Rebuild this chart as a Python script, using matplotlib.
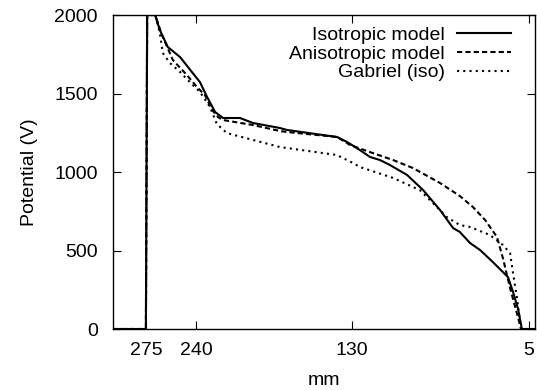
import matplotlib
matplotlib.use("Agg")
import matplotlib.pyplot as plt

# x position along the path (0..100 across the plotted range), potential in V
iso_x = [0, 7.8, 8.1, 10.0, 11.1, 13.0, 15.9, 18.7, 20.6, 22.3, 24.2, 26.1, 30.1, 33.2,
         39.6, 41.2, 53.1, 55.5, 58.5, 60.9, 63.3, 65.6, 69.7, 73.5, 77.5, 80.6, 82.2,
         84.6, 87.0, 90.0, 93.6, 94.8, 96.0, 96.9, 100]
iso_v = [0, 0, 2000, 2000, 1904, 1796, 1732, 1637, 1573, 1478, 1382, 1344, 1344, 1312,
         1280, 1268, 1223, 1191, 1140, 1096, 1076, 1045, 981, 885, 758, 643, 618,
         548, 503, 427, 331, 236, 127, 0, 0]

aniso_x = [0, 7.8, 8.1, 10.0, 11.6, 14.2, 17.5, 19.9, 21.8, 23.5, 24.9, 26.1, 33.2, 39.6,
           41.2, 53.1, 56.2, 60.9, 66.4, 71.1, 77.5, 82.2, 85.3, 88.2, 91.0, 92.4, 94.1,
           95.7, 96.7, 100]
aniso_v = [0, 0, 2000, 2000, 1873, 1713, 1618, 1541, 1490, 1395, 1350, 1331, 1299, 1261,
           1255, 1223, 1172, 1127, 1076, 1025, 930, 847, 777, 694, 586, 452, 261,
           102, 0, 0]

gab_x = [0, 7.8, 8.1, 10.0, 11.1, 11.8, 13.5, 15.9, 18.2, 20.6, 23.0, 24.6, 27.0, 33.2,
         39.6, 41.2, 53.1, 56.9, 58.5, 66.4, 72.7, 75.8, 79.1, 82.2, 84.6, 89.3, 92.4,
         94.1, 94.8, 95.7, 96.7, 100]
gab_v = [0, 0, 2000, 2000, 1885, 1758, 1694, 1637, 1573, 1510, 1414, 1306, 1248, 1204,
         1159, 1153, 1108, 1057, 1032, 962, 885, 803, 713, 662, 650, 599, 535,
         484, 357, 204, 0, 0]

xtick_pos = [7.8, 19.7, 56.6, 98.6]
xtick_labels = ["275", "240", "130", "5"]
yticks = [0, 500, 1000, 1500, 2000]

plt.rcParams["font.family"] = ["Liberation Sans", "DejaVu Sans"]
plt.rcParams["font.size"] = 14

fig = plt.figure(figsize=(5.37, 3.90), dpi=100)
ax = fig.add_axes([0.2104, 0.1564, 0.7858, 0.8051])

ax.plot(iso_x, iso_v, color="black", lw=1.5, label="Isotropic model")
ax.plot(aniso_x, aniso_v, color="black", lw=1.5, dashes=(2.5, 1.5), label="Anisotropic model")
ax.plot(gab_x, gab_v, color="black", lw=1.5, dashes=(1, 2), label="Gabriel (iso)")

ax.set_xlim(0, 100)
ax.set_ylim(0, 2000)
ax.set_xticks(xtick_pos)
ax.set_xticklabels(xtick_labels)
ax.set_yticks(yticks)
ax.tick_params(direction="in", length=6, width=0.8, top=True, right=True, pad=9)
ax.tick_params(axis="y", pad=11)
for s in ax.spines.values():
    s.set_linewidth(1.0)

ax.set_xlabel("mm", labelpad=10)
ax.set_ylabel("Potential (V)", labelpad=12)

leg = ax.legend(loc="upper right", bbox_to_anchor=(0.962, 0.99), frameon=False,
                markerfirst=False, handlelength=2.8, handletextpad=0.6,
                labelspacing=0.07, borderaxespad=0.0)
for col in leg._legend_handle_box.get_children():
    col.align = "right"

fig.savefig("out.png", dpi=100)
